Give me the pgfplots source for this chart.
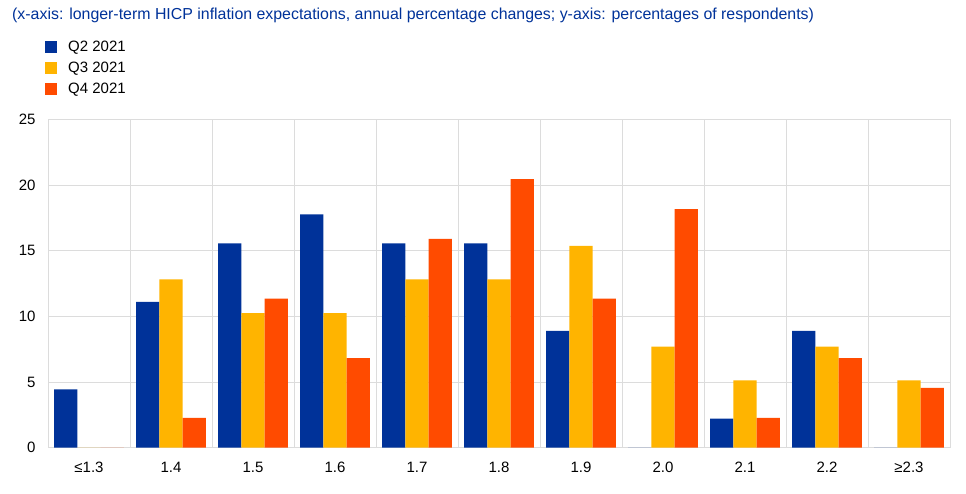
\documentclass[border=0pt]{standalone}
\usepackage{pgfplots}
\pgfplotsset{compat=1.18}
\usepackage{fontspec}
\setmainfont{Liberation Sans}
\definecolor{ecbblue}{HTML}{003299}
\definecolor{ecbyellow}{HTML}{FFB400}
\definecolor{ecborange}{HTML}{FF4B00}
\definecolor{gridgray}{HTML}{DCDCDC}
\begin{document}
\begin{tikzpicture}
\path[use as bounding box] (-48pt,-45.3pt) rectangle (918pt,447.7pt);
\begin{axis}[
  scale only axis,
  width=902pt, height=328.2pt,
  ybar=0pt, bar width=23.3pt,
  xmin=-0.5, xmax=10.5,
  ymin=0, ymax=25,
  xtick={0,...,10},
  xticklabels={≤1.3,1.4,1.5,1.6,1.7,1.8,1.9,2.0,2.1,2.2,≥2.3},
  minor xtick={-0.5,0.5,...,10.5},
  ytick={0,5,...,25},
  ymajorgrids, xminorgrids,
  grid style={gridgray, line width=0.8pt},
  axis line style={gridgray, line width=0.8pt},
  major tick length=0pt, minor tick length=0pt,
  /pgf/number format/assume math mode=true,
  tick label style={font=\fontsize{15}{18}\selectfont, text=black},
  xticklabel style={yshift=-11pt},
  yticklabel style={xshift=-9pt},
  legend style={at={(-0.0033,1.2407)}, anchor=north west, draw=none, fill=none,
    font=\fontsize{15}{18}\selectfont, row sep=9pt, inner sep=0pt,
    legend cell align=left,
    nodes={inner sep=0pt, text depth=0pt},
    /tikz/every odd column/.style={column sep=11pt}},
  legend image code/.code={\fill[#1] (0pt,-6pt) rectangle (12pt,6pt);},
]
\addplot[fill=ecbblue, draw=none] coordinates {(0,4.44) (1,11.11) (2,15.56) (3,17.78) (4,15.56) (5,15.56) (6,8.89) (7,0) (8,2.22) (9,8.89) (10,0)};
\addplot[fill=ecbyellow, draw=none] coordinates {(0,0) (1,12.82) (2,10.26) (3,10.26) (4,12.82) (5,12.82) (6,15.38) (7,7.69) (8,5.13) (9,7.69) (10,5.13)};
\addplot[fill=ecborange, draw=none] coordinates {(0,0) (1,2.27) (2,11.36) (3,6.82) (4,15.91) (5,20.45) (6,11.36) (7,18.18) (8,2.27) (9,6.82) (10,4.55)};
\legend{Q2 2021, Q3 2021, Q4 2021}
\end{axis}
\node[anchor=west, text=ecbblue, font=\fontsize{15.9}{19}\selectfont, inner sep=0pt] at (-36pt,432.7pt) {(x-axis: longer-term HICP inflation expectations, annual percentage changes; y-axis: percentages of respondents)};
\end{tikzpicture}
\end{document}
